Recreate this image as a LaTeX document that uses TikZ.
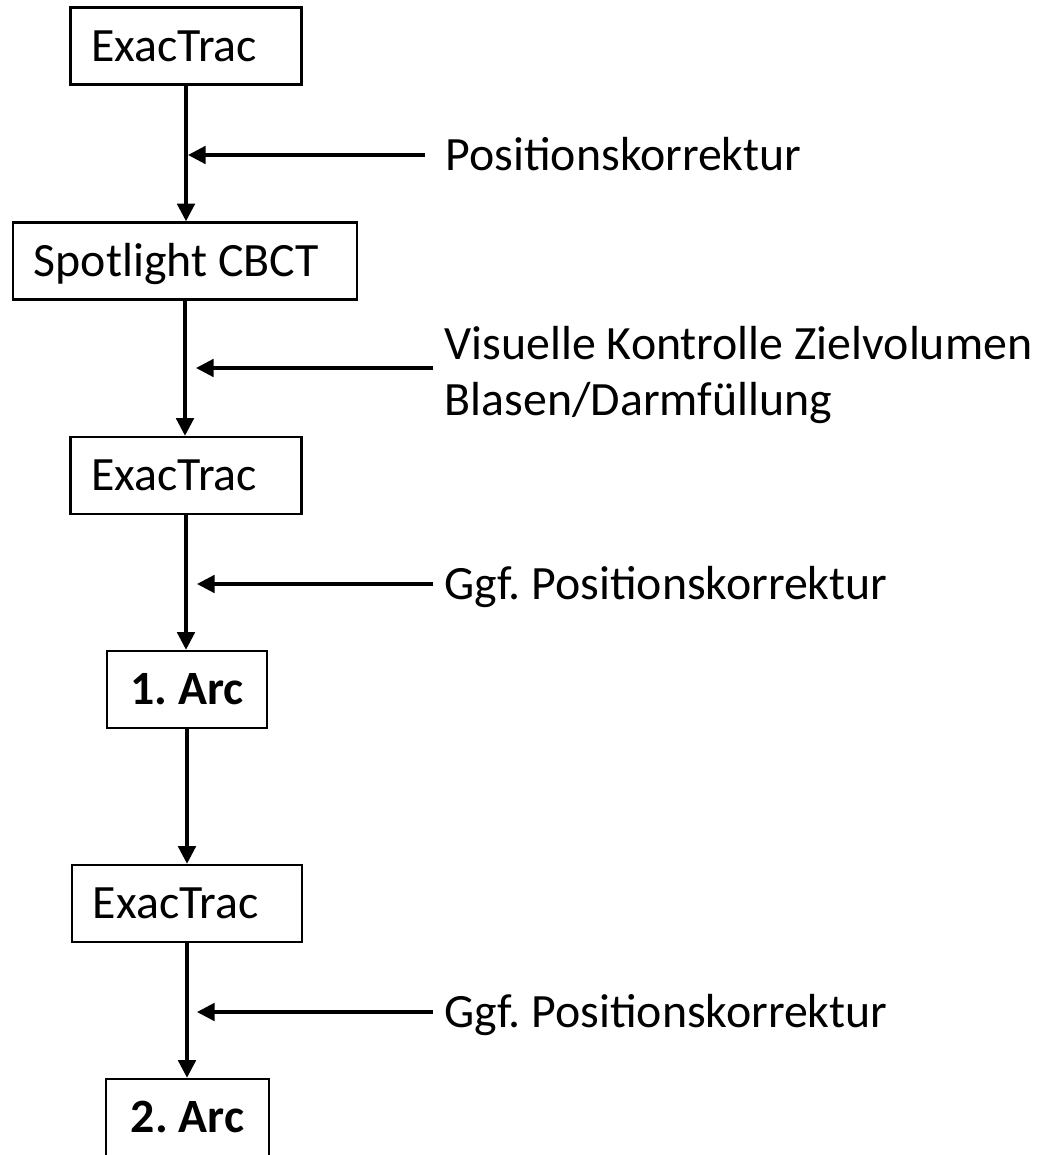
\documentclass[tikz,border=0pt]{standalone}
\usepackage{fontspec}
\setmainfont{Carlito}
\usetikzlibrary{arrows.meta}
\frenchspacing

\begin{document}
\begin{tikzpicture}[x=0.01cm, y=-0.01cm,
  every node/.style={font=\fontsize{13.6}{16.2}\selectfont},
  stepbox/.style={draw, line width=0.7pt, inner ysep=0pt, minimum height=0.77cm, text height=0.30cm, text depth=0cm},
  leftbox/.style={stepbox, inner xsep=0.21cm, align=flush left},
  note/.style={anchor=west, inner xsep=0.11cm, inner ysep=0pt, align=flush left},
  oneline/.style={text height=0.30cm, text depth=0cm},
  flow/.style={-{Triangle[length=5pt,width=5pt]}, line width=0.9pt}]
  \useasboundingbox (0,0) rectangle (1043,1155);

  \node[leftbox, text width=1.89cm] (e1) at (186,46) {ExacTrac};
  \node[leftbox, text width=3.02cm] (s2) at (185,261) {Spotlight CBCT};
  \node[leftbox, text width=1.89cm] (e3) at (186,475.5) {ExacTrac};
  \node[stepbox, inner xsep=0pt, minimum width=1.60cm] (a4) at (187,689.5) {\bfseries 1. Arc};
  \node[leftbox, text width=1.88cm] (e5) at (187,903.5) {ExacTrac};
  \node[stepbox, inner xsep=0pt, minimum width=1.63cm] (a6) at (187.5,1117.5) {\bfseries 2. Arc};

  \draw[flow] (e1.south) -- (e1.south |- s2.north);
  \draw[flow] (s2.south) -- (s2.south |- e3.north);
  \draw[flow] (e3.south) -- (e3.south |- a4.north);
  \draw[flow] (a4.south) -- (a4.south |- e5.north);
  \draw[flow] (e5.south) -- (e5.south |- a6.north);

  \coordinate (m1) at (188,155);
  \coordinate (m2) at (196,368);
  \coordinate (m3) at (197,584);
  \coordinate (m4) at (197,1012);

  \node[note, oneline, inner xsep=0.2cm] (p1) at (425,155) {Positionskorrektur};
  \node[note] (v2) at (433,375) {Visuelle Kontrolle Zielvolumen\\Blasen/Darmfüllung};
  \node[note, oneline] (g3) at (433,584) {Ggf. Positionskorrektur};
  \node[note, oneline] (g4) at (433,1012) {Ggf. Positionskorrektur};

  \draw[flow] (p1.west) -- (m1);
  \draw[flow] (v2.west |- m2) -- (m2);
  \draw[flow] (g3.west) -- (m3);
  \draw[flow] (g4.west) -- (m4);
\end{tikzpicture}
\end{document}
